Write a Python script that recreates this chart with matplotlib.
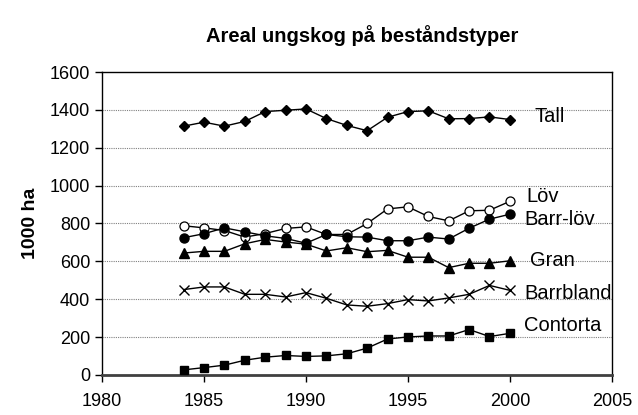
import matplotlib
matplotlib.use("Agg")
import matplotlib.pyplot as plt

plt.rcParams["font.family"] = ["Liberation Sans", "DejaVu Sans"]

years = list(range(1984, 2001))

tall = [1314, 1335, 1314, 1339, 1391, 1398, 1405, 1354, 1318, 1290, 1361, 1391, 1395, 1353, 1354, 1363, 1349]
lov = [788, 777, 763, 728, 747, 774, 782, 742, 742, 800, 877, 888, 837, 814, 867, 870, 917]
barr_lov = [725, 746, 777, 756, 735, 721, 696, 742, 730, 728, 709, 709, 728, 718, 775, 823, 849]
gran = [644, 653, 653, 693, 716, 702, 691, 655, 672, 651, 658, 622, 622, 567, 590, 590, 603]
barrbland = [451, 465, 465, 426, 426, 412, 435, 405, 370, 363, 377, 398, 391, 407, 426, 473, 447]
contorta = [27, 39, 52, 78, 94, 103, 98, 101, 112, 142, 190, 201, 206, 206, 240, 203, 220]

series_names = ["Tall", "Löv", "Barr-löv", "Gran", "Barrbland", "Contorta"]
label_pos = [(2001.2, 1363), (2000.8, 942), (2000.7, 821), (2001.0, 605), (2000.7, 432), (2000.7, 263)]

fig = plt.figure(figsize=(6.38, 4.15), dpi=100)
ax = fig.add_axes([0.16, 0.0964, 0.799, 0.7301])

# grid first so the lines sit on top
for yv in range(200, 1600, 200):
    ax.axhline(yv, color="#808080", linestyle=(0, (1, 1)), linewidth=0.8, zorder=1)

ax.plot(years, tall, color="black", lw=1, marker="D", ms=5.5, mfc="black", zorder=3)
ax.plot(years, lov, color="black", lw=1, marker="o", ms=6.5, mfc="white", mew=0.9, zorder=3)
ax.plot(years, barr_lov, color="black", lw=1, marker="o", ms=6.5, mfc="black", zorder=3)
ax.plot(years, gran, color="black", lw=1, marker="^", ms=7, mfc="black", zorder=3)
ax.plot(years, barrbland, color="black", lw=1, marker="x", ms=7, mew=1, zorder=3)
ax.plot(years, contorta, color="black", lw=1, marker="s", ms=5.5, mfc="black", zorder=3)

for name, (lx, ly) in zip(series_names, label_pos):
    ax.text(lx, ly, name, fontsize=14.5, va="center", ha="left", zorder=4)

ax.set_xlim(1980, 2005)
ax.set_ylim(0, 1600)
ax.set_xticks(range(1980, 2006, 5))
ax.set_yticks(range(0, 1601, 200))
ax.tick_params(axis="both", labelsize=13, direction="out", length=5, width=1)
ax.tick_params(axis="x", pad=8)

for s in ["left", "right", "top"]:
    ax.spines[s].set_linewidth(1)
    ax.spines[s].set_color("black")
ax.spines["bottom"].set_linewidth(2)
ax.spines["bottom"].set_color("#404040")

ax.set_ylabel("1000 ha", fontsize=14, fontweight="bold", labelpad=8)
fig.text(0.567, 0.915, "Areal ungskog på beståndstyper", fontsize=14.5, fontweight="bold",
         ha="center", va="center")

fig.savefig("out.png", dpi=100)
